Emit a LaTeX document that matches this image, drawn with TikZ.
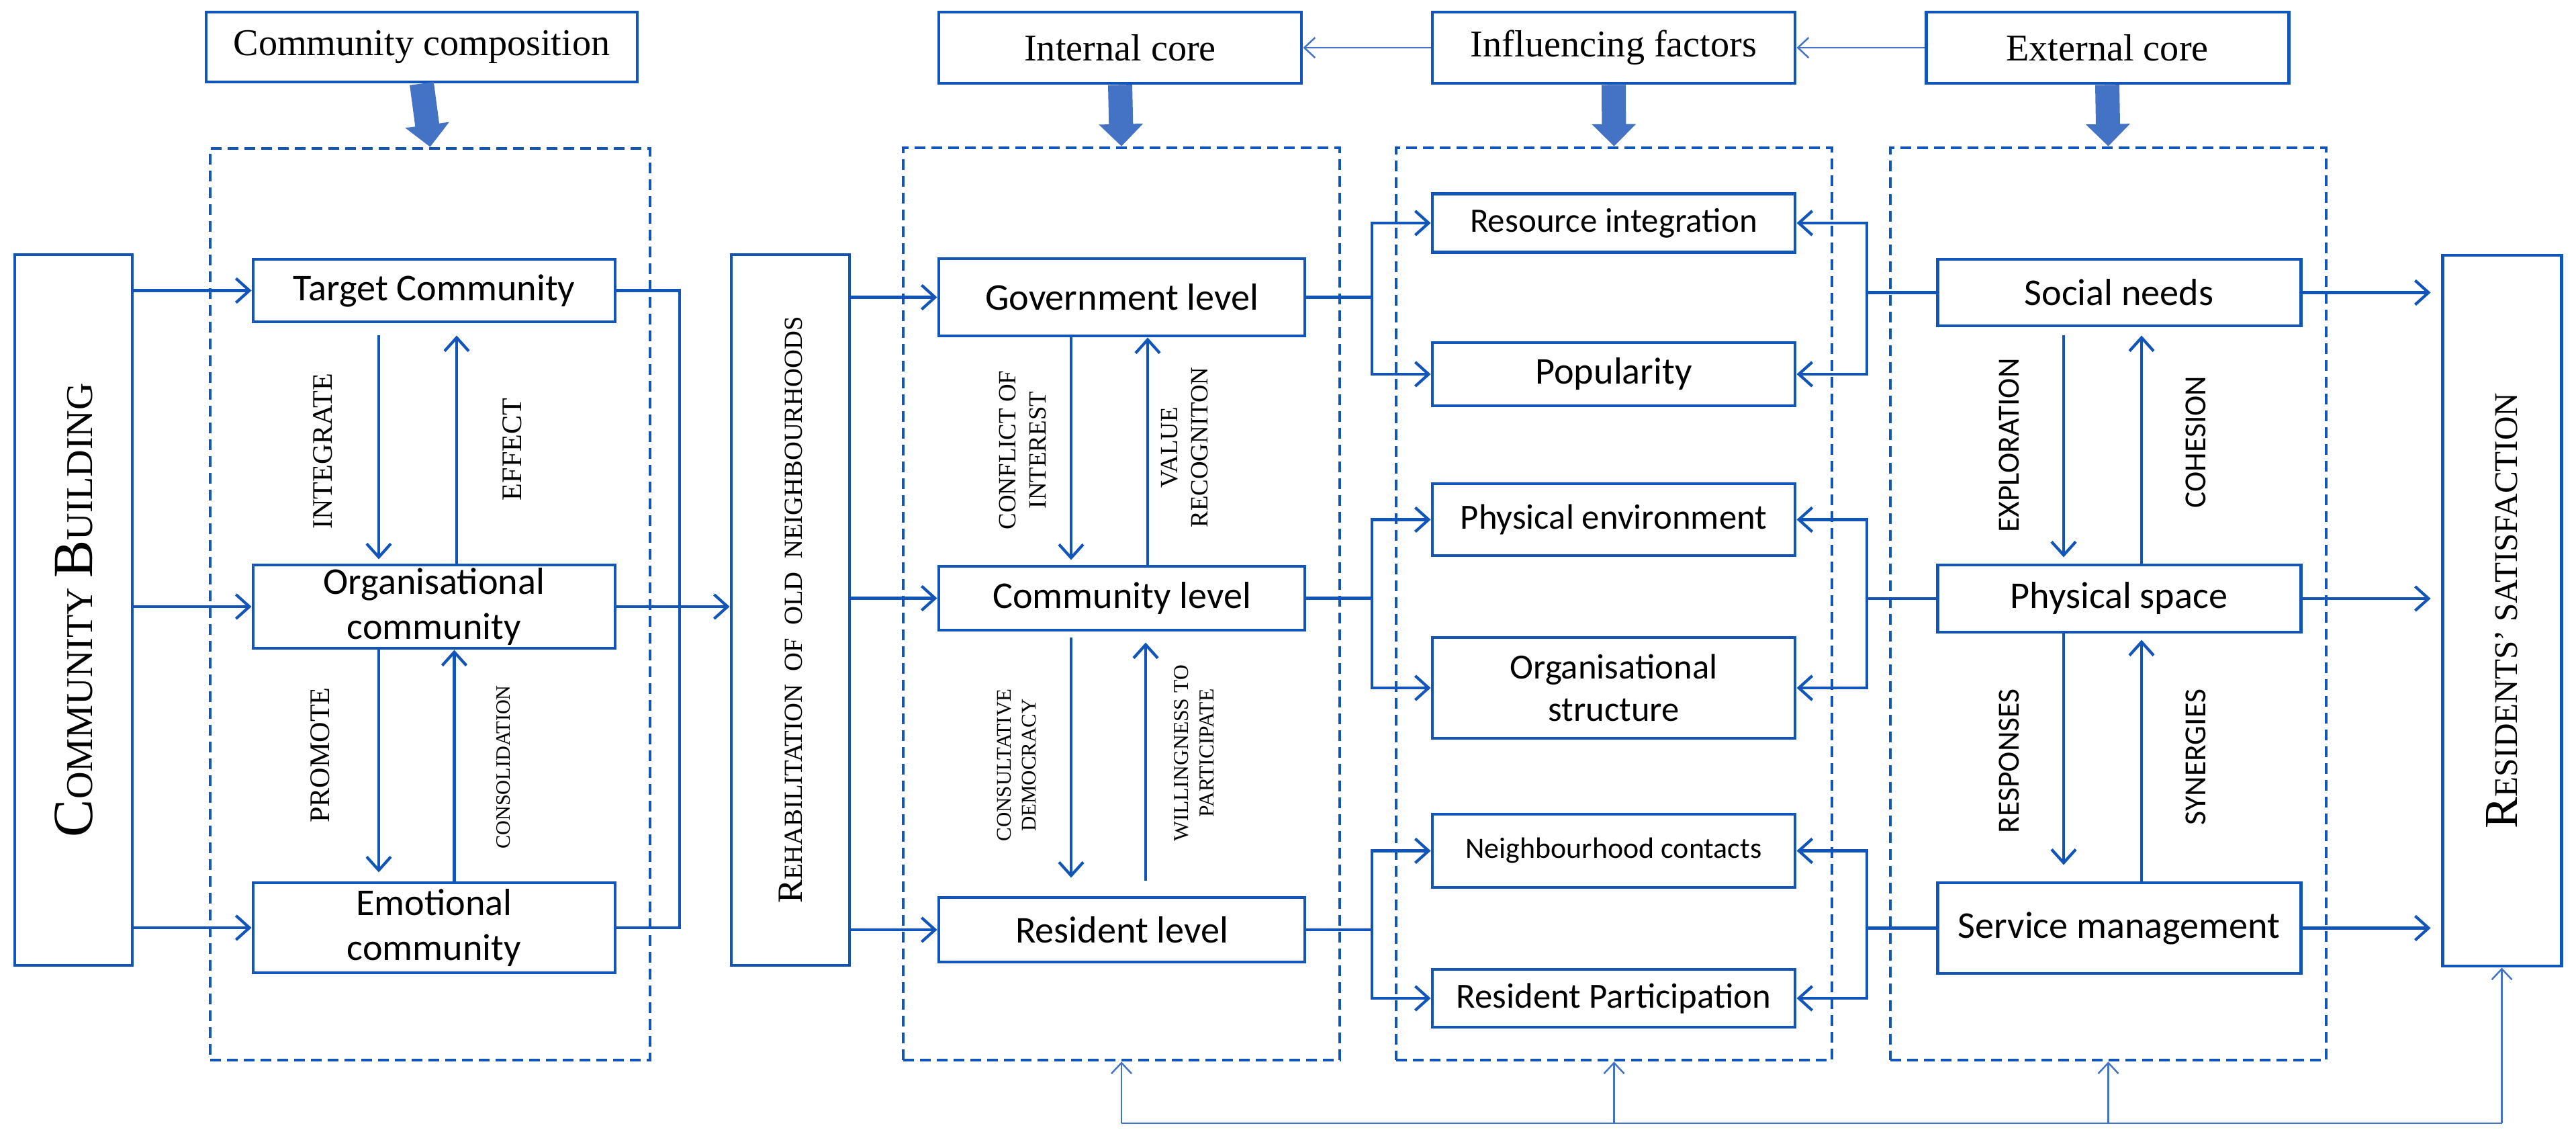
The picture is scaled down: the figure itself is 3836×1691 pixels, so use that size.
\documentclass[tikz,border=0pt]{standalone}
\usepackage{fontspec}
\setmainfont{Liberation Serif}
\newfontfamily\sansf{Carlito}
\usetikzlibrary{arrows.meta}
\definecolor{mblue}{RGB}{17,85,187}
\definecolor{lblue}{RGB}{68,114,196}
\newcommand{\fs}[1]{\fontsize{#1pt}{1.2\dimexpr #1pt\relax}\selectfont}
\begin{document}
\begin{tikzpicture}[x=0.1mm,y=-0.1mm,
  box/.style={draw=mblue,line width=1.4pt,fill=white,inner sep=1pt,align=center,font=\sansf\fs{16}},
  hbox/.style={draw=mblue,line width=1.4pt,inner sep=1pt,align=center,font=\fs{16},minimum width=54mm,minimum height=10.6mm},
  dbox/.style={draw=mblue,line width=1.3pt,dash pattern=on 1.6mm off 0.9mm},
  arr/.style={draw=mblue,line width=1.2pt,-{Straight Barb[length=2mm,width=3.6mm]}},
  ln/.style={draw=mblue,line width=1.2pt},
  big/.style={draw=lblue,line width=3.6mm,-{Triangle[length=3.3mm,width=6.4mm]},shorten >=0pt},
  thin/.style={draw=lblue,line width=0.7pt},
  tarr/.style={thin,-{Straight Barb[length=1.6mm,width=3mm]}},
  lbl/.style={rotate=90,align=center,inner sep=0pt,font=\fs{12}},
  slbl/.style={rotate=90,align=center,inner sep=0pt,font=\sansf\fs{13}}]
\useasboundingbox (0,0) rectangle (3836,1691);
% headers
\node[hbox,minimum width=64.2mm,minimum height=10.4mm] (cc) at (628,70) {Community composition};
\node[hbox] (ic) at (1668,71) {Internal core};
\node[hbox] (if) at (2403,71) {Influencing factors};
\node[hbox] (ec) at (3138,71) {External core};
% dashed groups
\node[dbox,minimum width=65.5mm,minimum height=135.7mm] (d1) at (640.5,899.5) {};
\node[dbox,minimum width=65mm,minimum height=135.8mm] (d2) at (1670,899) {};
\node[dbox,minimum width=64.9mm,minimum height=135.8mm] (d3) at (2403.5,899) {};
\node[dbox,minimum width=64.9mm,minimum height=135.8mm] (d4) at (3139.5,899) {};
\draw[big] (cc.south) -- (d1.north);
\draw[big] (ic.south) -- (d2.north);
\draw[big] (if.south) -- (d3.north);
\draw[big] (ec.south) -- (d4.north);
\draw[tarr,{Straight Barb[length=1.6mm,width=3mm]}-] (ic.east) -- (if.west);
\draw[tarr,{Straight Barb[length=1.6mm,width=3mm]}-] (if.east) -- (ec.west);
% left
\node[box,minimum width=17.5mm,minimum height=105.8mm] (cb) at (109.5,908) {};
\node[rotate=90,inner sep=0pt] (cbt) at (cb.center) {\fs{24}C\fs{16}OMMUNITY \fs{24}B\fs{16}UILDING};
\node[box,minimum width=53.9mm,minimum height=9.3mm] (tc) at (646.5,432.5) {Target Community};
\node[box,minimum width=53.9mm,minimum height=12.4mm] (oc) at (646.5,903) {Organisational\\community};
\node[box,minimum width=53.9mm,minimum height=13.4mm] (em) at (646.5,1381) {Emotional\\community};
\node[box,minimum width=17.6mm,minimum height=105.8mm] (rh) at (1177,908) {};
\node[rotate=90,inner sep=0pt] (rht) at (rh.center) {\fs{15}R\fs{11}EHABILITATION\ \ OF\ \ OLD\ \ NEIGHBOURHOODS};
\draw[arr] (tc.west -| cb.east) -- (tc.west);
\draw[arr] (oc.west -| cb.east) -- (oc.west);
\draw[arr] (em.west -| cb.east) -- (em.west);
\coordinate (j1) at (1012,0);
\draw[ln] (tc.east) -| (j1 |- em.east) -- (em.east);
\draw[arr] (oc.east) -- (oc.east -| rh.west);
\draw[arr] ([xshift=-8.25mm,yshift=-1.8mm]tc.south) -- ([xshift=-8.25mm,yshift=0.6mm]oc.north);
\draw[arr] ([xshift=3.35mm]oc.north) -- ([xshift=3.35mm,yshift=-1.8mm]tc.south);
\draw[arr] ([xshift=-8.25mm]oc.south) -- ([xshift=-8.25mm,yshift=1.3mm]em.north);
\draw[arr] ([xshift=3mm]em.north) -- ([xshift=3mm]oc.south);
\node[lbl] (l1) at (481,672) {INTEGRATE};
\node[lbl] (l2) at (763,669) {EFFECT};
\node[lbl] (l3) at (477,1124) {PROMOTE};
\node[lbl,font=\fs{8.6}] (l4) at (750,1142) {CONSOLIDATION};
% internal core
\node[box,minimum width=54.5mm,minimum height=11.5mm] (gov) at (1670.5,442.5) {Government level};
\node[box,minimum width=54.5mm,minimum height=9.5mm] (com) at (1670.5,890.5) {Community level};
\node[box,minimum width=54.5mm,minimum height=9.6mm] (res) at (1670.5,1384) {Resident level};
\draw[arr] (gov.west -| rh.east) -- (gov.west);
\draw[arr] (com.west -| rh.east) -- (com.west);
\draw[arr] (res.west -| rh.east) -- (res.west);
\draw[arr] ([xshift=-7.55mm]gov.south) -- ([xshift=-7.55mm,yshift=0.7mm]com.north);
\draw[arr] ([xshift=3.85mm]com.north) -- ([xshift=3.85mm]gov.south);
\draw[arr] ([xshift=-7.55mm,yshift=-0.9mm]com.south) -- ([xshift=-7.55mm,yshift=2.7mm]res.north);
\draw[arr] ([xshift=3.55mm,yshift=2.3mm]res.north) -- ([xshift=3.55mm,yshift=-1.6mm]com.south);
\node[lbl,font=\fs{10.5}] (l5) at (1523,670) {CONFLICT OF\\INTEREST};
\node[lbl,font=\fs{10.5}] (l6) at (1764,666) {VALUE\\RECOGNITON};
\node[lbl,font=\fs{8.8}] (l7) at (1514,1139) {CONSULTATIVE\\DEMOCRACY};
\node[lbl,font=\fs{9}] (l8) at (1778,1121) {WILLINGNESS TO\\PARTICIPATE};
% factors
\node[box,minimum width=54mm,minimum height=8.7mm,font=\sansf\fs{14.5}] (f1) at (2403,332) {Resource integration};
\node[box,minimum width=54mm,minimum height=9.4mm] (f2) at (2403,557) {Popularity};
\node[box,minimum width=54mm,minimum height=10.7mm,font=\sansf\fs{15}] (f3) at (2403,773.5) {Physical environment};
\node[box,minimum width=54mm,minimum height=15mm,font=\sansf\fs{15}] (f4) at (2403,1024) {Organisational\\structure};
\node[box,minimum width=54mm,minimum height=10.9mm,font=\sansf\fs{12.5}] (f5) at (2403,1266.5) {Neighbourhood contacts};
\node[box,minimum width=54mm,minimum height=8.6mm,font=\sansf\fs{15}] (f6) at (2403,1486) {Resident Participation};
\coordinate (b1) at (2043,0);
\coordinate (b2) at (2780,0);
\draw[ln] (gov.east) -- (gov.east -| b1);
\draw[arr] (gov.east -| b1) |- (f1.west);
\draw[arr] (gov.east -| b1) |- (f2.west);
\draw[ln] (com.east) -- (com.east -| b1);
\draw[arr] (com.east -| b1) |- (f3.west);
\draw[arr] (com.east -| b1) |- (f4.west);
\draw[ln] (res.east) -- (res.east -| b1);
\draw[arr] (res.east -| b1) |- (f5.west);
\draw[arr] (res.east -| b1) |- (f6.west);
% external core
\node[box,minimum width=54.1mm,minimum height=9.9mm] (sn) at (3155.5,435.5) {Social needs};
\node[box,minimum width=54.1mm,minimum height=10mm] (ps) at (3155.5,891) {Physical space};
\node[box,minimum width=54.1mm,minimum height=13.5mm] (sm) at (3155.5,1381.5) {Service management};
\node[box,minimum width=17.7mm,minimum height=105.8mm] (rs) at (3725.5,909) {};
\node[rotate=90,inner sep=0pt] (rst) at (rs.center) {\fs{20}R\fs{14}ESIDENTS' SATISFACTION};
\draw[ln] (sn.west) -- (sn.west -| b2);
\draw[arr] (sn.west -| b2) |- (f1.east);
\draw[arr] (sn.west -| b2) |- (f2.east);
\draw[ln] (ps.west) -- (ps.west -| b2);
\draw[arr] (ps.west -| b2) |- (f3.east);
\draw[arr] (ps.west -| b2) |- (f4.east);
\draw[ln] (sm.west) -- (sm.west -| b2);
\draw[arr] (sm.west -| b2) |- (f5.east);
\draw[arr] (sm.west -| b2) |- (f6.east);
\draw[arr] ([xshift=-8.25mm,yshift=-1.2mm]sn.south) -- ([xshift=-8.25mm,yshift=0.9mm]ps.north);
\draw[arr] ([xshift=3.35mm]ps.north) -- ([xshift=3.35mm,yshift=-1.2mm]sn.south);
\draw[arr] ([xshift=-8.25mm]ps.south) -- ([xshift=-8.25mm,yshift=2.4mm]sm.north);
\draw[arr] ([xshift=3.35mm]sm.north) -- ([xshift=3.35mm,yshift=-0.9mm]ps.south);
\node[slbl] (l9) at (2992,663) {EXPLORATION};
\node[slbl] (l10) at (3270,658) {COHESION};
\node[slbl] (l11) at (2992,1133) {RESPONSES};
\node[slbl] (l12) at (3270,1127) {SYNERGIES};
\draw[arr] (sn.east) -- ([xshift=-1.5mm]sn.east -| rs.west);
\draw[arr] (ps.east) -- ([xshift=-1.5mm]ps.east -| rs.west);
\draw[arr] (sm.east) -- ([xshift=-1.5mm]sm.east -| rs.west);
% feedback
\coordinate (base) at (0,1672);
\draw[thin] (d2.south |- base) -- (rs.south |- base);
\draw[tarr] (d2.south |- base) -- (d2.south);
\draw[tarr] (d3.south |- base) -- (d3.south);
\draw[tarr] (d4.south |- base) -- (d4.south);
\draw[tarr] (rs.south |- base) -- (rs.south);
\end{tikzpicture}
\end{document}
